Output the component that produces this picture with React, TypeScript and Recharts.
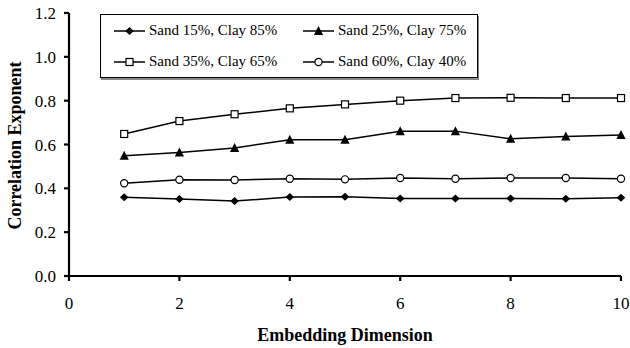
import React from 'react';
import { LineChart, Line, XAxis, YAxis, Legend, Label } from 'recharts';

const dims = [1, 2, 3, 4, 5, 6, 7, 8, 9, 10];
const sand15 = [0.359, 0.351, 0.342, 0.36, 0.362, 0.354, 0.354, 0.354, 0.353, 0.357];
const sand25 = [0.549, 0.564, 0.584, 0.622, 0.622, 0.66, 0.661, 0.626, 0.636, 0.643];
const sand35 = [0.648, 0.707, 0.738, 0.765, 0.783, 0.8, 0.812, 0.813, 0.812, 0.812];
const sand60 = [0.423, 0.439, 0.438, 0.444, 0.441, 0.447, 0.444, 0.447, 0.447, 0.444];
const xTicks = [0, 2, 4, 6, 8, 10];
const yTicks = [0, 0.2, 0.4, 0.6, 0.8, 1.0, 1.2];

const data = dims.map((d, i) => ({
  dim: d,
  s15: sand15[i],
  s25: sand25[i],
  s35: sand35[i],
  s60: sand60[i],
}));

const FONT = '"Liberation Serif", "Times New Roman", serif';

type Shape = 'diamond' | 'triangle' | 'square' | 'circle';

function Marker({ cx, cy, shape }: { cx: number; cy: number; shape: Shape }) {
  if (cx == null || cy == null) return null;
  switch (shape) {
    case 'diamond':
      return <polygon points={`${cx},${cy - 4} ${cx + 4.3},${cy} ${cx},${cy + 4} ${cx - 4.3},${cy}`} fill="#000" />;
    case 'triangle':
      return <polygon points={`${cx},${cy - 5} ${cx + 4.6},${cy + 4} ${cx - 4.6},${cy + 4}`} fill="#000" />;
    case 'square':
      return <rect x={cx - 3.5} y={cy - 3.5} width={7} height={7} fill="#fff" stroke="#000" strokeWidth={1.2} />;
    default:
      return <circle cx={cx} cy={cy} r={3.6} fill="#fff" stroke="#000" strokeWidth={1.2} />;
  }
}

const series: { key: string; name: string; shape: Shape }[] = [
  { key: 's15', name: 'Sand 15%, Clay 85%', shape: 'diamond' },
  { key: 's25', name: 'Sand 25%, Clay 75%', shape: 'triangle' },
  { key: 's35', name: 'Sand 35%, Clay 65%', shape: 'square' },
  { key: 's60', name: 'Sand 60%, Clay 40%', shape: 'circle' },
];

function LegendBox() {
  return (
    <div
      style={{
        width: 378,
        height: 64,
        border: '1px solid #000',
        boxShadow: '1px 2px 0 #888',
        background: '#fff',
        display: 'grid',
        gridTemplateColumns: '189px 180px',
        alignContent: 'center',
        rowGap: 1,
        fontFamily: FONT,
        fontSize: 15,
        boxSizing: 'border-box',
        paddingLeft: 13,
      }}
    >
      {series.map((s) => (
        <div key={s.key} style={{ display: 'flex', alignItems: 'center', height: 30 }}>
          <svg width={32} height={14} style={{ marginRight: 3 }}>
            <line x1={0} y1={7} x2={31} y2={7} stroke="#000" strokeWidth={1.5} />
            <Marker cx={15.5} cy={7} shape={s.shape} />
          </svg>
          <span>{s.name}</span>
        </div>
      ))}
    </div>
  );
}

function YTitle(props: any) {
  const vb = props.viewBox || {};
  const cx = 15;
  const cy = vb.y + vb.height / 2 + 1;
  return (
    <text
      x={cx}
      y={cy}
      transform={`rotate(-90 ${cx} ${cy})`}
      textAnchor="middle"
      dominantBaseline="central"
      fontFamily={FONT}
      fontWeight="bold"
      fontSize={18}
      fill="#000"
    >
      Correlation Exponent
    </text>
  );
}

export default function App() {
  return (
    <div style={{ position: 'absolute', left: 0, top: 0, background: '#fff' }}>
      <LineChart width={630} height={348} data={data} margin={{ top: 13, right: 9, left: 0, bottom: 0 }}>
        <XAxis
          dataKey="dim"
          type="number"
          domain={[0, 10]}
          ticks={xTicks}
          height={72}
          stroke="#000"
          strokeWidth={2.2}
          tickSize={5}
          tickMargin={16}
          tick={{ fill: '#000', fontFamily: FONT, fontSize: 17 }}
        >
          <Label
            value="Embedding Dimension"
            position="insideBottom"
            offset={7}
            style={{ fontFamily: FONT, fontWeight: 'bold', fontSize: 18, fill: '#000' }}
          />
        </XAxis>
        <YAxis
          type="number"
          domain={[0, 1.2]}
          ticks={yTicks}
          width={69}
          stroke="#000"
          strokeWidth={2.2}
          tickSize={5}
          tickMargin={8}
          tickFormatter={(v: number) => v.toFixed(1)}
          tick={{ fill: '#000', fontFamily: FONT, fontSize: 17 }}
        >
          <Label content={<YTitle />} />
        </YAxis>
        <Legend
          verticalAlign="middle"
          layout="horizontal"
          content={<LegendBox />}
          wrapperStyle={{ left: 100, top: 14, width: 380, height: 66 }}
        />
        {series.map((s) => (
          <Line
            key={s.key}
            dataKey={s.key}
            name={s.name}
            stroke="#000"
            strokeWidth={1.5}
            isAnimationActive={false}
            dot={(p: any) => <Marker key={`${s.key}-${p.index}`} cx={p.cx} cy={p.cy} shape={s.shape} />}
            activeDot={false}
          />
        ))}
      </LineChart>
    </div>
  );
}
